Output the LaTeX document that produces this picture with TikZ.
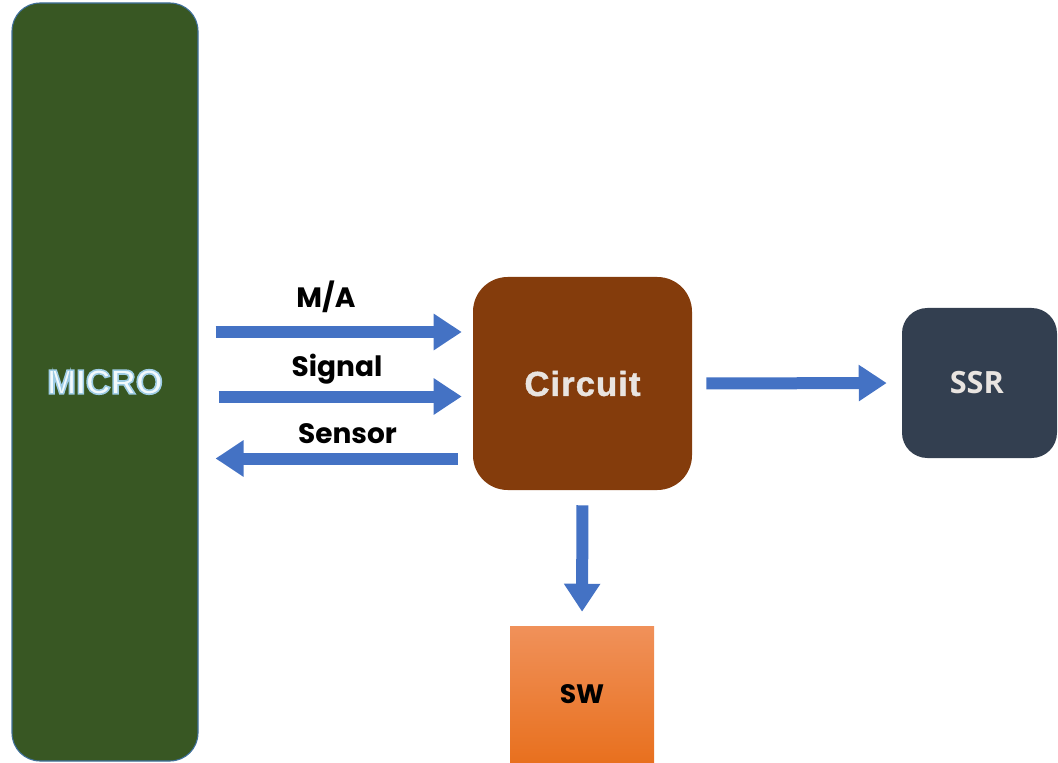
\documentclass[tikz,border=0pt]{standalone}
\usepackage{fontspec}
\usetikzlibrary{arrows.meta}
\setmainfont{Liberation Sans}
\newfontfamily\popf{Poppins}
\newfontfamily\opensf{Open Sans}
\newfontfamily\circf{Liberation Sans Bold}[LetterSpace=3, FakeBold=1.2]
\newfontfamily\microf{Liberation Sans Bold}
\definecolor{microgreen}{HTML}{385723}
\definecolor{microedge}{HTML}{41719C}
\definecolor{circbrown}{HTML}{843C0C}
\definecolor{ssrslate}{HTML}{333F50}
\definecolor{arrowblue}{HTML}{4472C4}
\definecolor{swtop}{HTML}{F0915A}
\definecolor{swbot}{HTML}{E8701E}
\definecolor{lighttext}{HTML}{E9E4E0}
\definecolor{microtext}{HTML}{F2F9FC}
\newcommand{\glowtext}[1]{\textcolor{microtext}{\special{pdf:literal direct q 2 Tr 1.2 w 0.62 0.80 0.90 RG}#1\special{pdf:literal direct Q}}}
\tikzset{
  blockarrow/.style={draw=arrowblue, line width=9pt, -{Triangle[length=21pt,width=26pt]}},
  lbl/.style={anchor=base, inner sep=0pt, font=\popf\bfseries\fontsize{21}{25}\selectfont},
  box/.style={inner sep=0pt, align=center}
}
\begin{document}
\begin{tikzpicture}[x=0.75pt, y=-0.75pt]
\useasboundingbox (0,0) rectangle (1058,763);
% boxes
\node[box, fill=microgreen, draw=microedge, line width=0.8pt, rounded corners=21pt,
      minimum width=139.5pt, minimum height=568.5pt,
      font=\microf\fontsize{26}{30}\selectfont] (micro) at (105,382)
      {\glowtext{MICRO}};
\node[box, fill=circbrown, rounded corners=26pt, text=lighttext,
      minimum width=164.25pt, minimum height=159.75pt,
      font=\circf\fontsize{26}{30}\selectfont] (circ) at (582.5,383.5)
      {Circuit};
\node[box, fill=ssrslate, rounded corners=19pt, text=lighttext,
      minimum width=116.25pt, minimum height=112.5pt,
      font=\opensf\bfseries\fontsize{23}{27}\selectfont] (ssr) at (979.5,383)
      {\hspace*{-4pt}SSR};
\node[box, top color=swtop, bottom color=swbot, text=black,
      minimum width=108pt, minimum height=102.75pt,
      font=\popf\bfseries\fontsize{20}{24}\selectfont] (sw) at (582,694.5)
      {SW};
% helper rows
\coordinate (yma) at (0,332);
\coordinate (ysig) at (0,396.5);
\coordinate (ysen) at (0,458.5);
% connectors
\draw[blockarrow, shorten <=12.75pt, shorten >=8.25pt] (micro.east |- yma) -- (circ.west |- yma);
\draw[blockarrow, shorten <=15pt, shorten >=8.25pt] (micro.east |- ysig) -- (circ.west |- ysig);
\draw[blockarrow, shorten <=11.25pt, shorten >=12.75pt] (circ.west |- ysen) -- (micro.east |- ysen);
\draw[blockarrow, shorten <=10.5pt, shorten >=11.25pt] (circ.east) -- (ssr.west);
\draw[blockarrow, shorten <=11.25pt, shorten >=10.5pt] (circ.south) -- (sw.north);
% labels
\node[lbl] (lma) at (326,308) {M/A};
\node[lbl] (lsig) at (337,377) {Signal};
\node[lbl] (lsen) at (347.5,443) {Sensor};
\end{tikzpicture}
\end{document}
